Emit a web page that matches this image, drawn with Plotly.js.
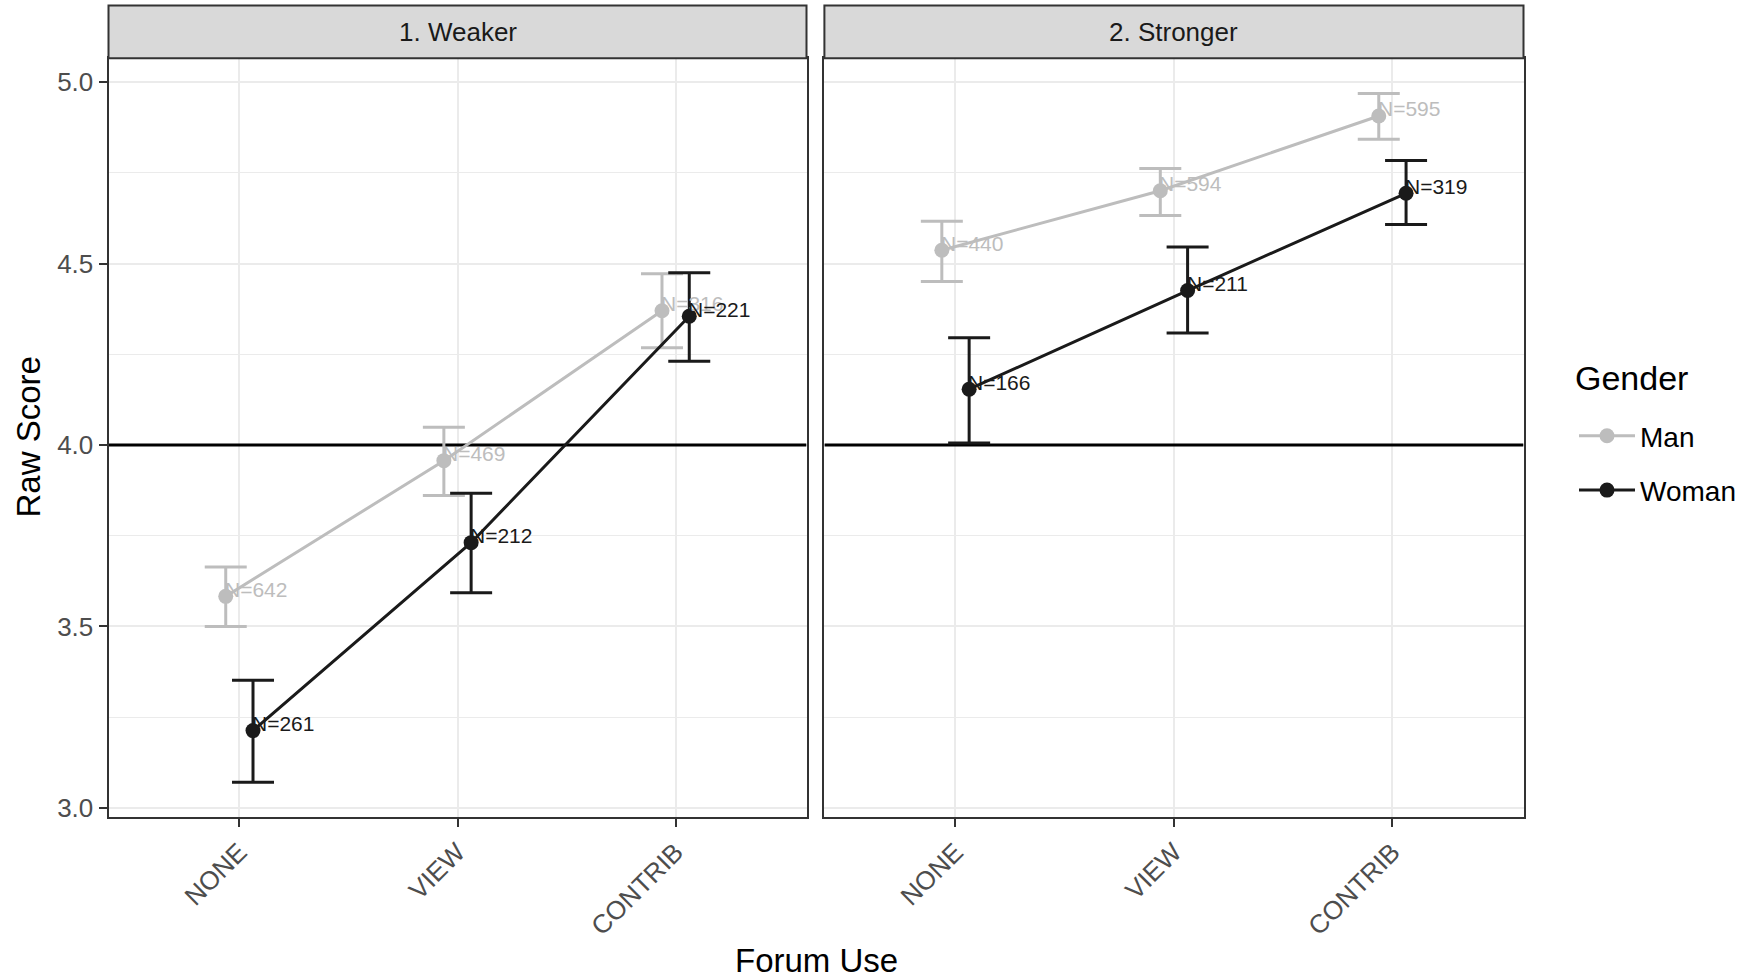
<!DOCTYPE html>
<html><head><meta charset="utf-8">
<script src="https://cdn.plot.ly/plotly-3.0.1.min.js"></script>
<style>html,body{margin:0;padding:0;background:#fff}</style>
</head><body><div id="chart" style="width:1754px;height:978px"></div>
<script>
const categories = ['NONE', 'VIEW', 'CONTRIB'];
const panels = ['1. Weaker', '2. Stronger'];
const genders = ['Man', 'Woman'];

const weakerManMean = [3.583, 3.957, 4.370];
const weakerManLower = [3.500, 3.861, 4.268];
const weakerManUpper = [3.664, 4.049, 4.472];
const weakerManN = [642, 469, 316];

const weakerWomanMean = [3.213, 3.731, 4.355];
const weakerWomanLower = [3.071, 3.593, 4.231];
const weakerWomanUpper = [3.352, 3.867, 4.475];
const weakerWomanN = [261, 212, 221];

const strongerManMean = [4.537, 4.701, 4.907];
const strongerManLower = [4.451, 4.633, 4.843];
const strongerManUpper = [4.617, 4.762, 4.969];
const strongerManN = [440, 594, 595];

const strongerWomanMean = [4.154, 4.426, 4.694];
const strongerWomanLower = [4.006, 4.309, 4.608];
const strongerWomanUpper = [4.296, 4.546, 4.784];
const strongerWomanN = [166, 211, 319];

const referenceLine = 4.0;
const yTicks = [3.0, 3.5, 4.0, 4.5, 5.0];
const xRange = [0.4, 3.6];

const FONT = 'Liberation Sans, Arial, Helvetica, sans-serif';
const colors = { Man: '#bdbdbd', Woman: '#1a1a1a' };
const dodge = { Man: -0.0625, Woman: 0.0625 };

const panelData = [
  { Man: [weakerManMean, weakerManLower, weakerManUpper, weakerManN],
    Woman: [weakerWomanMean, weakerWomanLower, weakerWomanUpper, weakerWomanN] },
  { Man: [strongerManMean, strongerManLower, strongerManUpper, strongerManN],
    Woman: [strongerWomanMean, strongerWomanLower, strongerWomanUpper, strongerWomanN] }
];

const catPos = categories.map((c, i) => i + 1);
const traces = [];
const annotations = [];

// reference line at 4.0 (drawn first so it sits under the data)
[['x', 'y'], ['x2', 'y2']].forEach(([xa, ya]) => {
  traces.push({
    type: 'scatter', mode: 'lines', x: xRange, y: [referenceLine, referenceLine],
    xaxis: xa, yaxis: ya, line: { color: '#000000', width: 3 },
    showlegend: false, hoverinfo: 'skip'
  });
});

panelData.forEach((pd, p) => {
  const xa = p === 0 ? 'x' : 'x2';
  const ya = p === 0 ? 'y' : 'y2';
  genders.forEach(g => {
    const [mean, lower, upper, n] = pd[g];
    const xs = catPos.map(v => v + dodge[g]);
    traces.push({
      type: 'scatter', mode: 'lines+markers', name: g,
      x: xs, y: mean, xaxis: xa, yaxis: ya,
      line: { color: colors[g], width: 3 },
      marker: { color: colors[g], size: 15 },
      error_y: { type: 'data', symmetric: false,
        array: upper.map((u, i) => u - mean[i]),
        arrayminus: lower.map((l, i) => mean[i] - l),
        color: colors[g], thickness: 3, width: 21 },
      showlegend: p === 0, legendgroup: g,
      hoverinfo: 'skip'
    });
    xs.forEach((xv, i) => {
      annotations.push({
        xref: xa, yref: ya, x: xv, y: mean[i], text: 'N=' + n[i],
        showarrow: false, xanchor: 'left', yanchor: 'middle', yshift: 7, xshift: -3,
        font: { family: FONT, size: 21, color: colors[g] }
      });
    });
  });
});

const W = 1754, H = 978;
const yDom = [1 - 816.6 / H, 1 - 58.3 / H];
const stripTop = 1 + (58.3 - 5.6) / (816.6 - 58.3);

function xAxis(domain, anchor) {
  return {
    domain: domain, anchor: anchor, range: xRange,
    tickvals: catPos, ticktext: categories, tickangle: -45,
    tickfont: { family: FONT, size: 26, color: '#4d4d4d' },
    ticks: 'outside', ticklen: 8, tickwidth: 2, tickcolor: '#333333',
    showgrid: true, gridcolor: '#ebebeb', gridwidth: 2, zeroline: false,
    showline: true, mirror: true, linecolor: '#333333', linewidth: 2,
    fixedrange: true
  };
}
function yAxis(anchor, showLabels) {
  return {
    domain: yDom, anchor: anchor, range: [2.976, 5.066],
    tickvals: yTicks, ticktext: yTicks.map(v => v.toFixed(1)),
    showticklabels: showLabels,
    tickfont: { family: FONT, size: 26, color: '#4d4d4d' },
    ticks: showLabels ? 'outside' : '', ticklen: 8, tickwidth: 2, tickcolor: '#333333',
    showgrid: true, gridcolor: '#ebebeb', gridwidth: 2, zeroline: false,
    minor: { tick0: 3.25, dtick: 0.5, showgrid: true, gridcolor: '#ebebeb', gridwidth: 1.1, ticks: '' },
    showline: true, mirror: true, linecolor: '#333333', linewidth: 2,
    fixedrange: true
  };
}

const shapes = [];
[['x', 'y'], ['x2', 'y2']].forEach(([xa, ya], p) => {
  shapes.push({ type: 'rect', xref: xa + ' domain', yref: ya + ' domain',
    x0: 0, x1: 1, y0: 1, y1: stripTop,
    fillcolor: '#d9d9d9', line: { color: '#333333', width: 2 } });
  annotations.push({ xref: xa + ' domain', yref: ya + ' domain', x: 0.5, y: (1 + stripTop) / 2,
    text: panels[p], showarrow: false, xanchor: 'center', yanchor: 'middle',
    font: { family: FONT, size: 26, color: '#1a1a1a' } });
});
annotations.push({ xref: 'paper', yref: 'paper', x: 816 / W, y: 1 - 960 / H,
  text: 'Forum Use', showarrow: false, xanchor: 'center', yanchor: 'middle',
  font: { family: FONT, size: 33, color: '#000000' } });
annotations.push({ xref: 'paper', yref: 'paper', x: 28 / W, y: 1 - 437.5 / H,
  text: 'Raw Score', showarrow: false, textangle: -90, xanchor: 'center', yanchor: 'middle',
  font: { family: FONT, size: 33, color: '#000000' } });
annotations.push({ xref: 'paper', yref: 'paper', x: 1573 / W, y: 1 - 378 / H,
  text: 'Gender', showarrow: false, xanchor: 'left', yanchor: 'middle',
  font: { family: FONT, size: 34, color: '#000000' } });

const layout = {
  width: W, height: H,
  margin: { l: 0, r: 0, t: 0, b: 0 },
  paper_bgcolor: '#ffffff', plot_bgcolor: '#ffffff',
  font: { family: FONT },
  xaxis: xAxis([108.5 / W, 806.5 / W], 'y'),
  xaxis2: xAxis([824.4 / W, 1523.5 / W], 'y2'),
  yaxis: yAxis('x', true),
  yaxis2: yAxis('x2', false),
  shapes: shapes,
  annotations: annotations,
  showlegend: true,
  legend: {
    x: 1574 / W, y: 1 - 411 / H, xanchor: 'left', yanchor: 'top',
    font: { family: FONT, size: 28, color: '#000000' },
    itemwidth: 56, tracegroupgap: 15, bgcolor: 'rgba(0,0,0,0)'
  }
};

Plotly.newPlot('chart', traces, layout, { displayModeBar: false });
</script>
</body></html>
